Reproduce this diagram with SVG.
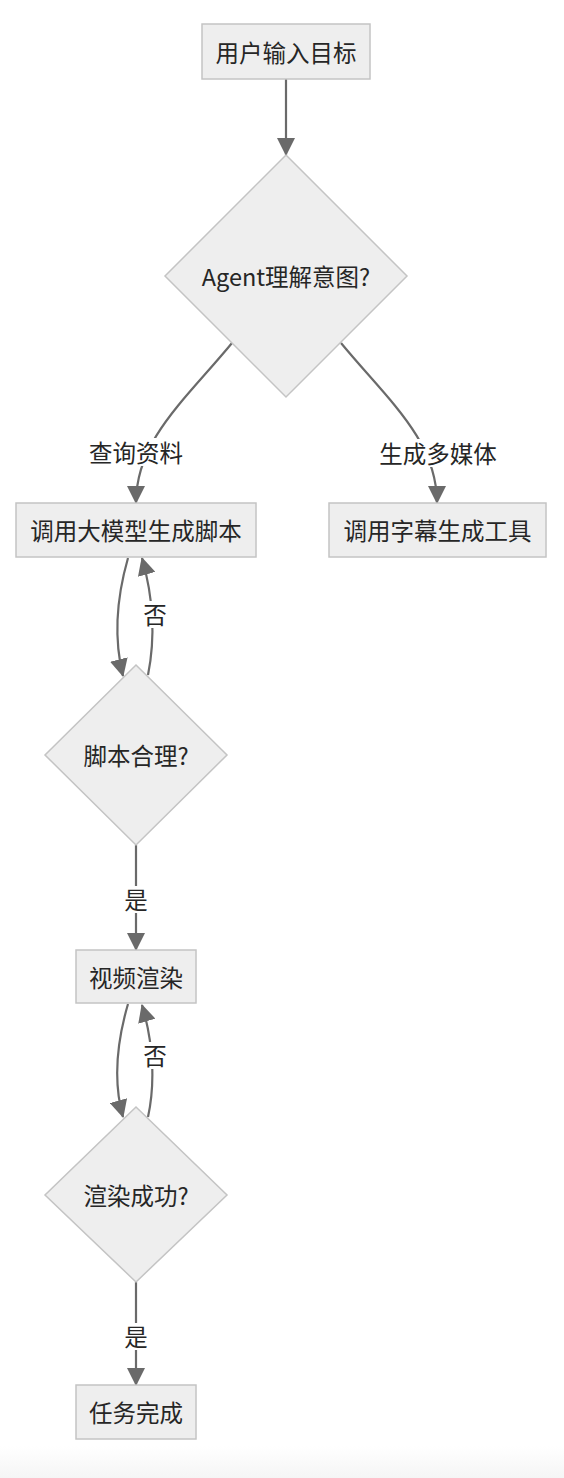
<svg xmlns="http://www.w3.org/2000/svg" width="564" height="1478" viewBox="0 0 564 1478">
  <style>
    .node rect, .node polygon { fill: #eeeeee; stroke: #c4c4c4; stroke-width: 1.5; }
    .label { font-family: "Noto Sans CJK SC", "Noto Sans", sans-serif; font-size: 23.5px; fill: #262626; text-anchor: middle; dominant-baseline: central; }
    .edge { fill: none; stroke: #6a6a6a; stroke-width: 2.2; marker-end: url(#arrow); }
    .elbg { fill: #ffffff; }
  </style>
  <defs>
    <marker id="arrow" markerUnits="userSpaceOnUse" markerWidth="18" markerHeight="18" refX="17" refY="9" orient="auto">
      <path d="M0,0 L18,9 L0,18 z" fill="#6a6a6a"/>
    </marker>
    <linearGradient id="bottomfade" x1="0" y1="0" x2="0" y2="1">
      <stop offset="0" stop-color="#ffffff"/>
      <stop offset="1" stop-color="#f5f5f5"/>
    </linearGradient>
  </defs>
  <rect x="0" y="0" width="564" height="1478" fill="#ffffff"/>
  <rect x="0" y="1446" width="564" height="32" fill="url(#bottomfade)"/>

  <g id="connectors">
    <path class="edge" d="M286,79 L286,155"/>
    <path class="edge" d="M232,343 C185,400 136,440 136,503"/>
    <path class="edge" d="M341,343 C388,400 437,440 437,503"/>
    <path class="edge" d="M128,558 C116,600 114,640 123,676"/>
    <path class="edge" d="M148,675 C155,640 154,600 142,558"/>
    <path class="edge" d="M136,845 L136,950"/>
    <path class="edge" d="M128,1004 C116,1045 114,1085 123,1117"/>
    <path class="edge" d="M148,1117 C155,1085 154,1045 142,1005"/>
    <path class="edge" d="M136,1282 L136,1385"/>

    <g id="edge-labels">
      <rect class="elbg" x="88" y="438" width="96" height="28"/>
      <text class="label" x="136" y="452">查询资料</text>
      <rect class="elbg" x="379" y="439" width="118" height="28"/>
      <text class="label" x="438" y="453">生成多媒体</text>
      <rect class="elbg" x="143" y="601" width="24" height="27"/>
      <text class="label" x="155" y="614">否</text>
      <rect class="elbg" x="124" y="886" width="24" height="27"/>
      <text class="label" x="136" y="899">是</text>
      <rect class="elbg" x="143" y="1042" width="24" height="27"/>
      <text class="label" x="155" y="1055">否</text>
      <rect class="elbg" x="124" y="1323" width="24" height="27"/>
      <text class="label" x="136" y="1336">是</text>
    </g>
  </g>

  <g id="n-start" class="node">
    <rect x="202" y="24" width="168" height="55"/>
    <text class="label" x="286" y="52">用户输入目标</text>
  </g>
  <g id="n-intent" class="node">
    <polygon points="286,155 407,276 286,397 165,276"/>
    <text class="label" x="286" y="276">Agent理解意图?</text>
  </g>
  <g id="n-script" class="node">
    <rect x="16" y="503" width="240" height="54"/>
    <text class="label" x="136" y="530">调用大模型生成脚本</text>
  </g>
  <g id="n-subtitle" class="node">
    <rect x="329" y="503" width="217" height="54"/>
    <text class="label" x="437.5" y="530">调用字幕生成工具</text>
  </g>
  <g id="n-check-script" class="node">
    <polygon points="136,665 227,755 136,845 45,755"/>
    <text class="label" x="136" y="755">脚本合理?</text>
  </g>
  <g id="n-render" class="node">
    <rect x="76" y="950" width="120" height="53"/>
    <text class="label" x="136" y="977">视频渲染</text>
  </g>
  <g id="n-check-render" class="node">
    <polygon points="136,1107 227,1195 136,1282 45,1195"/>
    <text class="label" x="136" y="1195">渲染成功?</text>
  </g>
  <g id="n-done" class="node">
    <rect x="76" y="1385" width="120" height="54"/>
    <text class="label" x="136" y="1412">任务完成</text>
  </g>
</svg>
